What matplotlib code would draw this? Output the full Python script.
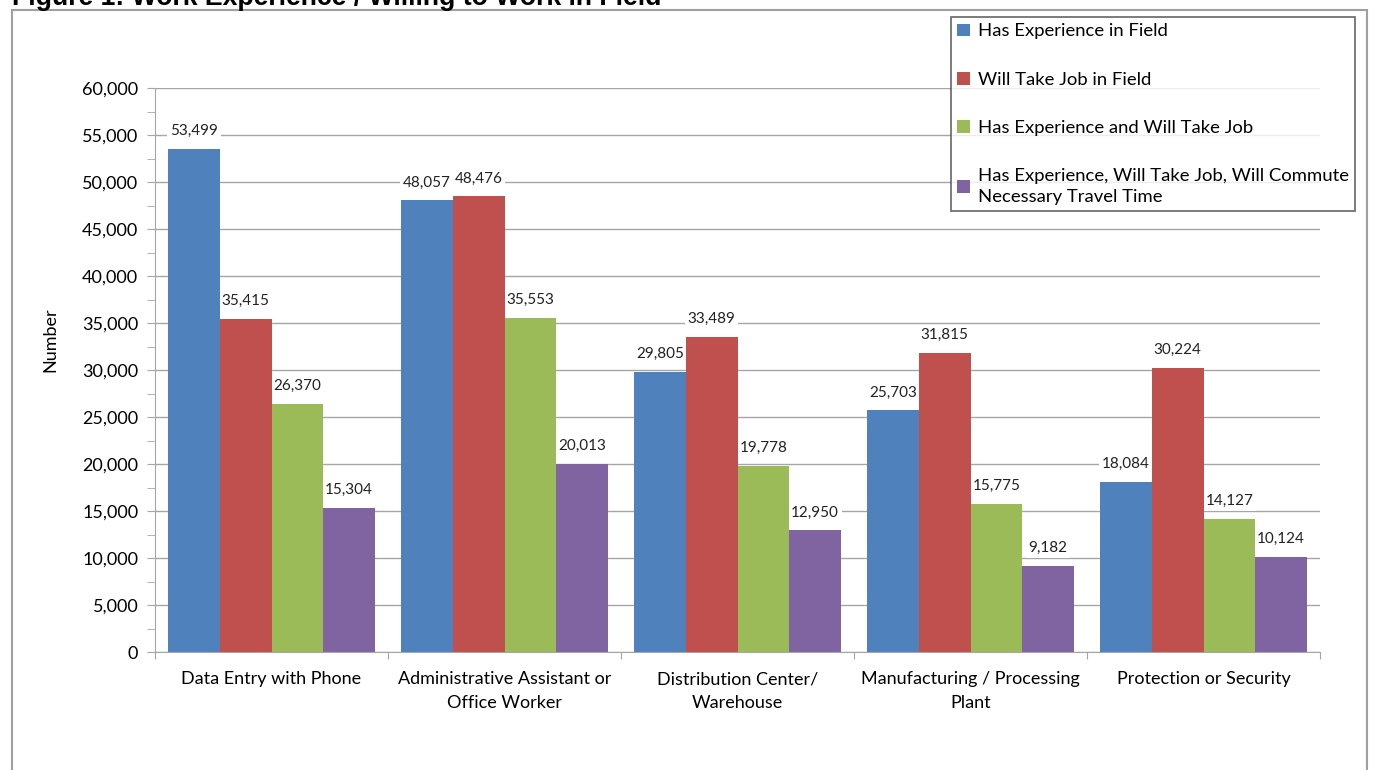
import matplotlib.pyplot as plt
from matplotlib.patches import Rectangle
from matplotlib.ticker import MultipleLocator, FuncFormatter
import numpy as np

categories = ['Data Entry with Phone', 'Administrative Assistant or\nOffice Worker',
              'Distribution Center/\nWarehouse', 'Manufacturing / Processing\nPlant',
              'Protection or Security']
series = ['Has Experience in Field', 'Will Take Job in Field',
          'Has Experience and Will Take Job',
          'Has Experience, Will Take Job, Will Commute\nNecessary Travel Time']
has_experience = [53499, 48057, 29805, 25703, 18084]
will_take_job = [35415, 48476, 33489, 31815, 30224]
exp_and_take = [26370, 35553, 19778, 15775, 14127]
exp_take_commute = [15304, 20013, 12950, 9182, 10124]
colors = ['#4F81BD', '#C0504D', '#9BBB59', '#8064A2']

plt.rcParams['font.family'] = ['Lato', 'DejaVu Sans']

fig = plt.figure(figsize=(13.73, 7.7), dpi=100)
ax = fig.add_axes([0.1129, 0.1532, 0.8485, 0.7325])

# outer frame of the figure panel (bottom runs off the page)
fig.patches.append(Rectangle((12 / 1373, -0.05), (1367 - 12) / 1373, 1 - 10 / 770 + 0.05,
                             transform=fig.transFigure, fill=False,
                             edgecolor='#a0a0a0', linewidth=1.5))
fig.text(12 / 1373, 1 - 5 / 770, 'Figure 1: Work Experience / Willing to Work in Field',
         fontsize=19.2, fontweight='bold', family='Liberation Sans', va='baseline', ha='left')

x = np.arange(len(categories))
width = 0.2215
offsets = (np.arange(4) - 1.5) * width
for vals, off, col, name in zip([has_experience, will_take_job, exp_and_take, exp_take_commute],
                                offsets, colors, series):
    bars = ax.bar(x + off, vals, width, color=col, label=name, zorder=2)
    for b, v in zip(bars, vals):
        # white box hides the gridline behind the label; bars sit on top of it
        ax.text(b.get_x() + b.get_width() / 2, v + 1900, f'{v:,}', ha='center', va='center',
                fontsize=11, color='#222222', zorder=1.5,
                bbox=dict(facecolor='white', edgecolor='none', pad=2))

ax.set_xlim(-0.5, 4.5)
ax.set_ylim(0, 60000)
ax.yaxis.set_major_locator(MultipleLocator(5000))
ax.yaxis.set_minor_locator(MultipleLocator(2500))
ax.yaxis.set_major_formatter(FuncFormatter(lambda v, p: f'{int(v):,}'))
ax.grid(axis='y', which='major', color='#a6a6a6', linewidth=1, zorder=0)
ax.set_axisbelow(True)

ax.set_xticks(np.arange(-0.5, 5, 1))
ax.set_xticklabels([])
ax.set_xticks(x, minor=True)
ax.set_xticklabels(categories, minor=True, fontsize=13, linespacing=1.6)
ax.tick_params(axis='x', which='minor', length=0, pad=14)
ax.tick_params(axis='x', which='major', length=5, color='#a6a6a6')
ax.tick_params(axis='y', which='major', length=6, color='#a6a6a6', labelsize=13, pad=6)
ax.tick_params(axis='y', which='minor', length=6, color='#a6a6a6')

for s in ['top', 'right']:
    ax.spines[s].set_visible(False)
for s in ['left', 'bottom']:
    ax.spines[s].set_color('#a6a6a6')

ax.set_ylabel('Number', fontsize=13)
ax.yaxis.set_label_coords(-0.083, 0.553)

leg = fig.legend(loc='upper left', bbox_to_anchor=(951 / 1373, 1 - 17 / 770), fontsize=13.3,
                 frameon=True, fancybox=False, edgecolor='#404040', handlelength=0.7,
                 handleheight=0.7, handletextpad=0.4, labelspacing=1.75,
                 borderpad=0.35, borderaxespad=0)
leg.get_frame().set_linewidth(1.2)
for t in leg.get_texts():
    t.set_linespacing(1.35)

fig.savefig('out.png', dpi=100)
